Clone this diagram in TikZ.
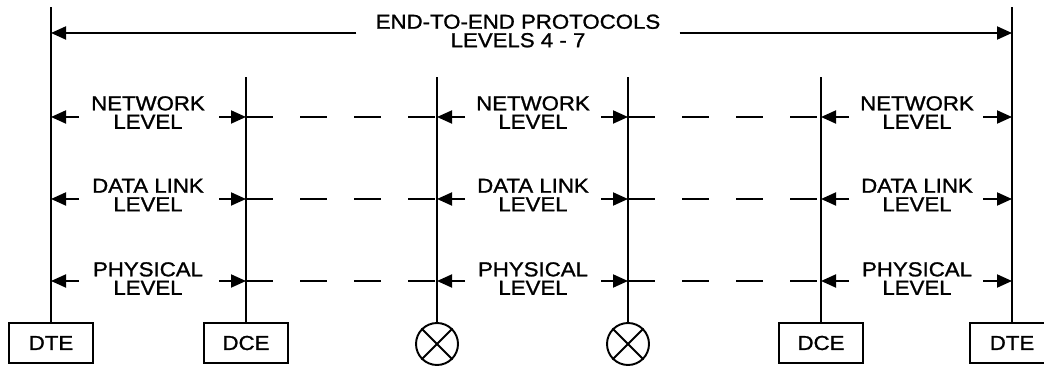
\documentclass[tikz,border=0pt]{standalone}
\usepackage{fontspec}
\setmainfont{Liberation Sans}[FakeStretch=1.1,FakeBold=1.2]
\usetikzlibrary{arrows.meta,positioning}

\tikzset{
  unitbox/.style={draw,line width=1.2pt,minimum width=16.8mm,minimum height=8mm,inner sep=0pt,
    font=\fontsize{11.5}{11}\selectfont},
  mux/.style={draw,circle,line width=1.1pt,minimum size=8.4mm,inner sep=0pt},
  lvl/.style={align=center,inner sep=0pt,font=\fontsize{11.5}{10.5}\selectfont},
  mainline/.style={line width=1.4pt},
  subline/.style={line width=1pt},
  dashline/.style={line width=1.1pt,dash pattern=on 5.4mm off 5.4mm},
  levarrow/.style={line width=1.1pt,->}
}

\begin{document}
\begin{tikzpicture}[x=0.2mm,y=-0.2mm,>={Triangle[length=3mm,width=2.6mm]}]
  \useasboundingbox (0,0) rectangle (1044,369);

  % stations
  \node[unitbox] (dteL) at (51,343) {DTE};
  \node[unitbox] (dceL) at (246,343) {DCE};
  \node[mux] (muxL) at (437,344) {};
  \node[mux] (muxR) at (628,344) {};
  \node[unitbox] (dceR) at (821,343) {DCE};
  \node[unitbox] (dteR) at (1012,343) {DTE};
  \draw[line width=1.1pt] (muxL.north west) -- (muxL.south east);
  \draw[line width=1.1pt] (muxL.north east) -- (muxL.south west);
  \draw[line width=1.1pt] (muxR.north west) -- (muxR.south east);
  \draw[line width=1.1pt] (muxR.north east) -- (muxR.south west);

  % verticals
  \draw[mainline] (dteL.north) -- (dteL.north |- 0,7);
  \draw[mainline] (dteR.north) -- (dteR.north |- 0,7);
  \draw[subline] (dceL.north) -- (dceL.north |- 0,77);
  \draw[subline] (muxL.north) -- (muxL.north |- 0,77);
  \draw[subline] (muxR.north) -- (muxR.north |- 0,77);
  \draw[subline] (dceR.north) -- (dceR.north |- 0,77);

  % end-to-end
  \coordinate (eL) at (dteL.north |- 0,33);
  \coordinate (eR) at (dteR.north |- 0,33);
  \node[lvl,inner xsep=3.8mm] (e2e) at (518,31) {END-TO-END PROTOCOLS\\LEVELS 4 - 7};
  \draw[levarrow] (e2e.west |- eL) -- (eL);
  \draw[levarrow] (e2e.east |- eR) -- (eR);

  % levels 1 - 3
  \foreach \y/\ty/\txt in {117/112.5/NETWORK\\LEVEL,
                           199/195/DATA LINK\\LEVEL,
                           281/278.5/PHYSICAL\\LEVEL} {
    \coordinate (p1) at (dteL.north |- 0,\y);
    \coordinate (p2) at (dceL.north |- 0,\y);
    \coordinate (p3) at (muxL.north |- 0,\y);
    \coordinate (p4) at (muxR.north |- 0,\y);
    \coordinate (p5) at (dceR.north |- 0,\y);
    \coordinate (p6) at (dteR.north |- 0,\y);
    \node[lvl] at (148,\ty) {\txt};
    \node[lvl] at (533,\ty) {\txt};
    \node[lvl] at (917,\ty) {\txt};
    \draw[levarrow] ([xshift=5.6mm]p1) -- (p1);
    \draw[levarrow] ([xshift=-5.4mm]p2) -- (p2);
    \draw[levarrow] ([xshift=5.6mm]p3) -- (p3);
    \draw[levarrow] ([xshift=-5.4mm]p4) -- (p4);
    \draw[levarrow] ([xshift=5.6mm]p5) -- (p5);
    \draw[levarrow] ([xshift=-5.8mm]p6) -- (p6);
    \draw[dashline] (p2) -- (p3);
    \draw[dashline] (p4) -- (p5);
  }
\end{tikzpicture}
\end{document}
